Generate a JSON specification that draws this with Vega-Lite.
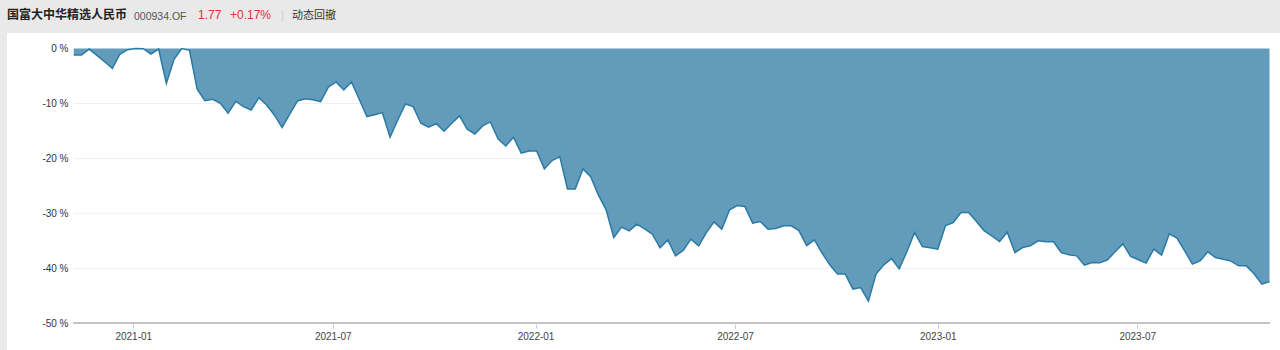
{
  "$schema": "https://vega.github.io/schema/vega-lite/v6.json",
  "background": "#e9e9e9",
  "padding": {"left": 7, "top": 0, "right": 0, "bottom": 0},
  "spacing": 0,
  "config": {"view": {"stroke": null}},
  "vconcat": [
    {
      "spacing": 0,
      "hconcat": [
        {"width": 127, "height": 33, "data": {"values": []}, "mark": "text", "encoding": {},
         "title": {"text": "国富大中华精选人民币", "anchor": "start", "frame": "group", "orient": "top", "offset": -27, "baseline": "middle", "font": "Noto Sans CJK SC", "fontSize": 12, "fontWeight": "bold", "color": "#222222"}},
        {"width": 64, "height": 33, "data": {"values": []}, "mark": "text", "encoding": {},
         "title": {"text": "000934.OF", "anchor": "start", "frame": "group", "orient": "top", "offset": -27, "baseline": "middle", "font": "Liberation Sans", "fontSize": 10.5, "fontWeight": "normal", "color": "#555555"}},
        {"width": 32, "height": 33, "data": {"values": []}, "mark": "text", "encoding": {},
         "title": {"text": "1.77", "anchor": "start", "frame": "group", "orient": "top", "offset": -27, "baseline": "middle", "font": "Liberation Sans", "fontSize": 12, "fontWeight": "normal", "color": "#dd3333"}},
        {"width": 51, "height": 33, "data": {"values": []}, "mark": "text", "encoding": {},
         "title": {"text": "+0.17%", "anchor": "start", "frame": "group", "orient": "top", "offset": -27, "baseline": "middle", "font": "Liberation Sans", "fontSize": 12, "fontWeight": "normal", "color": "#dd3333"}},
        {"width": 11, "height": 33, "data": {"values": []}, "mark": "text", "encoding": {},
         "title": {"text": "|", "anchor": "start", "frame": "group", "orient": "top", "offset": -27, "baseline": "middle", "font": "Liberation Sans", "fontSize": 12, "fontWeight": "normal", "color": "#cccccc"}},
        {"width": 60, "height": 33, "data": {"values": []}, "mark": "text", "encoding": {},
         "title": {"text": "动态回撤", "anchor": "start", "frame": "group", "orient": "top", "offset": -27, "baseline": "middle", "font": "Noto Sans CJK SC", "fontSize": 11, "fontWeight": "normal", "color": "#333333"}}
      ]
    },
    {
      "width": 1273,
      "height": 317,
      "view": {"fill": "white", "stroke": null},
      "data": {"values": [
        {"d": "2020-11-08", "v": -1.18}, {"d": "2020-11-15", "v": -1.18}, {"d": "2020-11-22", "v": -0.1}, {"d": "2020-11-29", "v": -1.25},
        {"d": "2020-12-06", "v": -2.42}, {"d": "2020-12-13", "v": -3.6}, {"d": "2020-12-20", "v": -1.0}, {"d": "2020-12-27", "v": -0.22},
        {"d": "2021-01-03", "v": 0}, {"d": "2021-01-10", "v": -0.04}, {"d": "2021-01-17", "v": -1.0}, {"d": "2021-01-24", "v": -0.1},
        {"d": "2021-01-31", "v": -6.33}, {"d": "2021-02-07", "v": -1.96}, {"d": "2021-02-14", "v": 0}, {"d": "2021-02-21", "v": -0.33},
        {"d": "2021-02-28", "v": -7.42}, {"d": "2021-03-07", "v": -9.49}, {"d": "2021-03-14", "v": -9.24}, {"d": "2021-03-21", "v": -9.96},
        {"d": "2021-03-28", "v": -11.78}, {"d": "2021-04-04", "v": -9.6}, {"d": "2021-04-11", "v": -10.58}, {"d": "2021-04-18", "v": -11.18},
        {"d": "2021-04-25", "v": -8.95}, {"d": "2021-05-02", "v": -10.27}, {"d": "2021-05-09", "v": -12.09}, {"d": "2021-05-16", "v": -14.4},
        {"d": "2021-05-23", "v": -11.96}, {"d": "2021-05-30", "v": -9.55}, {"d": "2021-06-06", "v": -9.13}, {"d": "2021-06-13", "v": -9.31},
        {"d": "2021-06-20", "v": -9.67}, {"d": "2021-06-27", "v": -7.05}, {"d": "2021-07-04", "v": -6.09}, {"d": "2021-07-11", "v": -7.55},
        {"d": "2021-07-18", "v": -6.09}, {"d": "2021-07-25", "v": -9.24}, {"d": "2021-08-01", "v": -12.4}, {"d": "2021-08-08", "v": -12.04},
        {"d": "2021-08-15", "v": -11.67}, {"d": "2021-08-22", "v": -16.15}, {"d": "2021-08-29", "v": -13.0}, {"d": "2021-09-05", "v": -10.09},
        {"d": "2021-09-12", "v": -10.58}, {"d": "2021-09-19", "v": -13.6}, {"d": "2021-09-26", "v": -14.33}, {"d": "2021-10-03", "v": -13.67},
        {"d": "2021-10-10", "v": -15.05}, {"d": "2021-10-17", "v": -13.6}, {"d": "2021-10-24", "v": -12.27}, {"d": "2021-10-31", "v": -14.69},
        {"d": "2021-11-07", "v": -15.55}, {"d": "2021-11-14", "v": -14.09}, {"d": "2021-11-21", "v": -13.36}, {"d": "2021-11-28", "v": -16.45},
        {"d": "2021-12-05", "v": -17.73}, {"d": "2021-12-12", "v": -16.15}, {"d": "2021-12-19", "v": -19.05}, {"d": "2021-12-26", "v": -18.64},
        {"d": "2022-01-02", "v": -18.64}, {"d": "2022-01-09", "v": -21.91}, {"d": "2022-01-16", "v": -20.4}, {"d": "2022-01-23", "v": -19.67},
        {"d": "2022-01-30", "v": -25.55}, {"d": "2022-02-06", "v": -25.55}, {"d": "2022-02-13", "v": -21.91}, {"d": "2022-02-20", "v": -23.31},
        {"d": "2022-02-27", "v": -26.64}, {"d": "2022-03-06", "v": -29.36}, {"d": "2022-03-13", "v": -34.4}, {"d": "2022-03-20", "v": -32.51},
        {"d": "2022-03-27", "v": -33.18}, {"d": "2022-04-03", "v": -31.96}, {"d": "2022-04-10", "v": -32.82}, {"d": "2022-04-17", "v": -33.78},
        {"d": "2022-04-24", "v": -36.27}, {"d": "2022-05-01", "v": -34.82}, {"d": "2022-05-08", "v": -37.73}, {"d": "2022-05-15", "v": -36.76},
        {"d": "2022-05-22", "v": -34.69}, {"d": "2022-05-29", "v": -35.91}, {"d": "2022-06-05", "v": -33.49}, {"d": "2022-06-12", "v": -31.55},
        {"d": "2022-06-19", "v": -32.87}, {"d": "2022-06-26", "v": -29.36}, {"d": "2022-07-03", "v": -28.58}, {"d": "2022-07-10", "v": -28.76},
        {"d": "2022-07-17", "v": -31.78}, {"d": "2022-07-24", "v": -31.49}, {"d": "2022-07-31", "v": -32.87}, {"d": "2022-08-07", "v": -32.76},
        {"d": "2022-08-14", "v": -32.27}, {"d": "2022-08-21", "v": -32.27}, {"d": "2022-08-28", "v": -33.13}, {"d": "2022-09-04", "v": -35.85},
        {"d": "2022-09-11", "v": -34.82}, {"d": "2022-09-18", "v": -37.24}, {"d": "2022-09-25", "v": -39.36}, {"d": "2022-10-02", "v": -41.05},
        {"d": "2022-10-09", "v": -41.05}, {"d": "2022-10-16", "v": -43.78}, {"d": "2022-10-23", "v": -43.49}, {"d": "2022-10-30", "v": -45.96},
        {"d": "2022-11-06", "v": -41.05}, {"d": "2022-11-13", "v": -39.36}, {"d": "2022-11-20", "v": -38.22}, {"d": "2022-11-27", "v": -40.09},
        {"d": "2022-12-04", "v": -36.95}, {"d": "2022-12-11", "v": -33.49}, {"d": "2022-12-18", "v": -36.04}, {"d": "2022-12-25", "v": -36.27},
        {"d": "2023-01-01", "v": -36.51}, {"d": "2023-01-08", "v": -32.22}, {"d": "2023-01-15", "v": -31.67}, {"d": "2023-01-22", "v": -29.85},
        {"d": "2023-01-29", "v": -29.85}, {"d": "2023-02-05", "v": -31.49}, {"d": "2023-02-12", "v": -33.13}, {"d": "2023-02-19", "v": -34.09},
        {"d": "2023-02-26", "v": -35.13}, {"d": "2023-03-05", "v": -33.42}, {"d": "2023-03-12", "v": -37.13}, {"d": "2023-03-19", "v": -36.22},
        {"d": "2023-03-26", "v": -35.91}, {"d": "2023-04-02", "v": -35.0}, {"d": "2023-04-09", "v": -35.18}, {"d": "2023-04-16", "v": -35.18},
        {"d": "2023-04-23", "v": -37.13}, {"d": "2023-04-30", "v": -37.55}, {"d": "2023-05-07", "v": -37.73}, {"d": "2023-05-14", "v": -39.42},
        {"d": "2023-05-21", "v": -38.95}, {"d": "2023-05-28", "v": -39.0}, {"d": "2023-06-04", "v": -38.45}, {"d": "2023-06-11", "v": -36.95},
        {"d": "2023-06-18", "v": -35.55}, {"d": "2023-06-25", "v": -37.85}, {"d": "2023-07-02", "v": -38.45}, {"d": "2023-07-09", "v": -39.05},
        {"d": "2023-07-16", "v": -36.51}, {"d": "2023-07-23", "v": -37.6}, {"d": "2023-07-30", "v": -33.73}, {"d": "2023-08-06", "v": -34.51},
        {"d": "2023-08-13", "v": -36.82}, {"d": "2023-08-20", "v": -39.24}, {"d": "2023-08-27", "v": -38.64}, {"d": "2023-09-03", "v": -37.0},
        {"d": "2023-09-10", "v": -38.04}, {"d": "2023-09-17", "v": -38.33}, {"d": "2023-09-24", "v": -38.69}, {"d": "2023-10-01", "v": -39.55},
        {"d": "2023-10-08", "v": -39.55}, {"d": "2023-10-15", "v": -41.0}, {"d": "2023-10-22", "v": -42.87}, {"d": "2023-10-29", "v": -42.4}
      ]},
      "layer": [
        {
          "data": {"values": [{"g": -10}, {"g": -20}, {"g": -30}, {"g": -40}]},
          "mark": {"type": "rule", "color": "#efefef", "strokeWidth": 1},
          "encoding": {
            "y": {"field": "g", "type": "quantitative", "title": null},
            "x": {"datum": {"year": 2020, "month": 11, "date": 8}, "type": "temporal", "title": null},
            "x2": {"datum": {"year": 2023, "month": 10, "date": 29}}
          }
        },
        {
          "mark": {"type": "area", "color": "#629cba", "opacity": 1},
          "encoding": {
            "x": {"field": "d", "type": "temporal", "title": null,
                  "scale": {"domain": [{"year": 2020, "month": 9, "date": 8, "hours": 10}, {"year": 2023, "month": 11, "date": 7, "hours": 12}]},
                  "axis": {"orient": "bottom", "offset": -26, "values": [{"year": 2021, "month": 1, "date": 1}, {"year": 2021, "month": 7, "date": 1}, {"year": 2022, "month": 1, "date": 1}, {"year": 2022, "month": 7, "date": 1}, {"year": 2023, "month": 1, "date": 1}, {"year": 2023, "month": 7, "date": 1}], "format": "%Y-%m", "grid": false, "domain": false, "ticks": true, "tickSize": 4, "tickColor": "#c8c8c8", "labelPadding": 3, "labelFont": "Liberation Sans", "labelFontSize": 10, "labelColor": "#444444", "labelFlush": false, "title": null}},
            "y": {"field": "v", "type": "quantitative", "title": null,
                  "scale": {"domain": [-54.86, 2.82], "nice": false, "zero": false},
                  "axis": {"orient": "left", "offset": -67, "values": [0, -10, -20, -30, -40, -50], "labelExpr": "datum.value + ' %'", "grid": false, "domain": false, "ticks": false, "labelPadding": 6, "labelFont": "Liberation Sans", "labelFontSize": 10, "labelColor": "#333333", "title": null}},
            "y2": {"datum": 0}
          }
        },
        {
          "mark": {"type": "line", "color": "#2a7aa5", "strokeWidth": 1.5},
          "encoding": {
            "x": {"field": "d", "type": "temporal", "title": null},
            "y": {"field": "v", "type": "quantitative", "title": null}
          }
        },
        {
          "mark": {"type": "rule", "color": "#c4c4c4", "strokeWidth": 1},
          "encoding": {
            "y": {"datum": -50, "type": "quantitative", "title": null},
            "x": {"datum": {"year": 2020, "month": 11, "date": 8}, "type": "temporal", "title": null},
            "x2": {"datum": {"year": 2023, "month": 10, "date": 29}}
          }
        }
      ]
    }
  ]
}
